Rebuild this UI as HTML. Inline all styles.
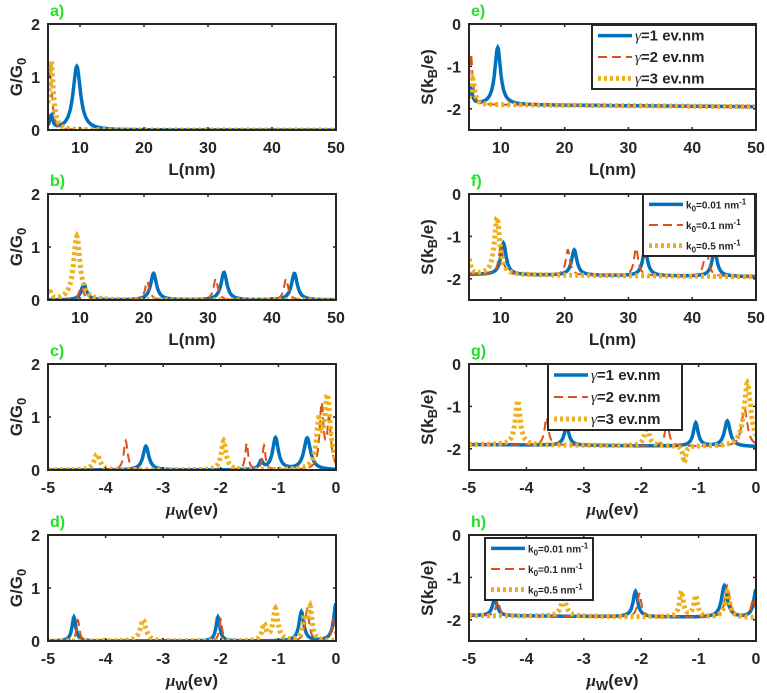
<!DOCTYPE html>
<html><head><meta charset="utf-8"><style>
html,body{margin:0;padding:0;background:#fff;}
svg{display:block;font-family:"Liberation Sans",Arial,sans-serif;font-weight:bold;}
</style></head><body>
<svg id="fig" width="767" height="693" viewBox="0 0 767 693"></svg>
<script>
// ---- data (peak centers, peak values, widths) ----
const rowTops = [24,194,364,535];
const lenTicks = [10,20,30,40,50];
const muTicks = [-5,-4,-3,-2,-1,0];
const gTicks = [0,1,2];
const sTicks = [-2,-1,0];
const gammaLabels = ["\u03b3=1 ev.nm","\u03b3=2 ev.nm","\u03b3=3 ev.nm"];
const kLabels = ["k0=0.01 nm-1","k0=0.1 nm-1","k0=0.5 nm-1"];

const aBlueC=[5.5,9.5], aBlueH=[0.25,1.2], aBlueW=[0.3,0.7];
const aRedC=[5.3], aRedH=[1.25], aRedW=[0.35];
const aYelC=[5.5], aYelH=[1.3], aYelW=[0.4];

const bBlueC=[10.6,21.5,32.5,43.5], bBlueH=[0.3,0.5,0.52,0.5], bBlueW=[0.5,0.55,0.55,0.55];
const bRedC=[10.2,20.5,31.2,42.2], bRedH=[0.25,0.35,0.4,0.4], bRedW=[0.4,0.4,0.4,0.4];
const bYelC=[5.2,9.5], bYelH=[0.2,1.2], bYelW=[0.3,0.6];

const cBlueC=[-3.3,-1.3,-1.05,-0.5], cBlueH=[0.45,0.15,0.6,0.6], cBlueW=[0.06,0.04,0.06,0.07];
const cRedC=[-3.65,-1.55,-1.25,-0.25,-0.12], cRedH=[0.55,0.5,0.45,1.2,0.9], cRedW=[0.04,0.03,0.03,0.04,0.04];
const cYelC=[-4.15,-1.95,-0.3,-0.15], cYelH=[0.3,0.55,0.8,1.35], cYelW=[0.06,0.05,0.05,0.06];

const dBlueC=[-4.55,-2.05,-0.6,0], dBlueH=[0.45,0.45,0.55,0.7], dBlueW=[0.04,0.04,0.05,0.05];
const dRedC=[-4.48,-2.0,-0.5,-0.05], dRedH=[0.4,0.4,0.6,0.4], dRedW=[0.03,0.03,0.04,0.03];
const dYelC=[-3.35,-1.25,-1.05,-0.55,-0.45], dYelH=[0.4,0.3,0.6,0.4,0.6], dYelW=[0.06,0.04,0.05,0.04,0.04];

const eBlueC=[5.3,9.5], eBlueH=[-1.55,-0.55], eBlueW=[0.3,0.55];
const eRedC=[5.3], eRedH=[-0.7], eRedW=[0.3];
const eYelC=[5.6], eYelH=[-1.3], eYelW=[0.35];

const fBlueC=[10.4,21.5,32.6,43.5], fBlueH=[-1.15,-1.3,-1.3,-1.3], fBlueW=[0.5,0.5,0.5,0.5];
const fRedC=[10.0,20.5,31.2,42.2], fRedH=[-1.2,-1.3,-1.25,-1.2], fRedW=[0.4,0.4,0.4,0.4];
const fYelC=[5.0,9.4], fYelH=[-1.55,-0.55], fYelW=[0.3,0.5];

const gBlueC=[-3.3,-1.05,-0.5], gBlueH=[-1.45,-1.35,-1.3], gBlueW=[0.05,0.05,0.06];
const gRedC=[-3.65,-1.55,-0.2], gRedH=[-1.25,-1.3,-1.0], gRedW=[0.04,0.04,0.06];
const gYelC=[-4.15,-1.9,-1.25,-0.15], gYelH=[-0.85,-1.45,-2.3,-0.4], gYelW=[0.05,0.05,0.03,0.07];

const hBlueC=[-4.55,-2.1,-0.55,0], hBlueH=[-1.5,-1.3,-1.15,-1.25], hBlueW=[0.05,0.05,0.06,0.05];
const hRedC=[-4.5,-2.03,-0.5,-0.05], hRedH=[-1.55,-1.35,-1.15,-1.45], hRedW=[0.04,0.04,0.05,0.04];
const hYelC=[-3.35,-1.3,-1.05,-0.5], hYelH=[-1.5,-1.3,-1.4,-1.3], hYelW=[0.06,0.04,0.04,0.05];

const NS="http://www.w3.org/2000/svg";
const svg=document.getElementById('fig');
const COL={b:"#0072BD",r:"#D95319",y:"#EDB120"};
function el(t,a,p){const e=document.createElementNS(NS,t);for(const k in a)e.setAttribute(k,a[k]);(p||svg).appendChild(e);return e;}

const panels=[
 {id:'a',col:0,row:0,xr:[5,50],xt:lenTicks,yr:[0,2],yt:gTicks,base:0,s:[[aBlueC,aBlueH,aBlueW],[aRedC,aRedH,aRedW],[aYelC,aYelH,aYelW]],xl:'L',leg:null},
 {id:'b',col:0,row:1,xr:[5,50],xt:lenTicks,yr:[0,2],yt:gTicks,base:0,s:[[bBlueC,bBlueH,bBlueW],[bRedC,bRedH,bRedW],[bYelC,bYelH,bYelW]],xl:'L',leg:null},
 {id:'c',col:0,row:2,xr:[-5,0],xt:muTicks,yr:[0,2],yt:gTicks,base:0,s:[[cBlueC,cBlueH,cBlueW],[cRedC,cRedH,cRedW],[cYelC,cYelH,cYelW]],xl:'mu',leg:null},
 {id:'d',col:0,row:3,xr:[-5,0],xt:muTicks,yr:[0,2],yt:gTicks,base:0,s:[[dBlueC,dBlueH,dBlueW],[dRedC,dRedH,dRedW],[dYelC,dYelH,dYelW]],xl:'mu',leg:null},
 {id:'e',col:1,row:0,xr:[5,50],xt:lenTicks,yr:[-2.5,0],yt:sTicks,base:-1.9,s:[[eBlueC,eBlueH,eBlueW],[eRedC,eRedH,eRedW],[eYelC,eYelH,eYelW]],xl:'L',leg:{x:592,y:25,w:164,h:64,t:'g'}},
 {id:'f',col:1,row:1,xr:[5,50],xt:lenTicks,yr:[-2.5,0],yt:sTicks,base:-1.9,s:[[fBlueC,fBlueH,fBlueW],[fRedC,fRedH,fRedW],[fYelC,fYelH,fYelW]],xl:'L',leg:{x:643,y:194,w:112,h:62,t:'k'}},
 {id:'g',col:1,row:2,xr:[-5,0],xt:muTicks,yr:[-2.5,0],yt:sTicks,base:-1.9,s:[[gBlueC,gBlueH,gBlueW],[gRedC,gRedH,gRedW],[gYelC,gYelH,gYelW]],xl:'mu',leg:{x:548,y:364,w:134,h:66,t:'g'}},
 {id:'h',col:1,row:3,xr:[-5,0],xt:muTicks,yr:[-2.5,0],yt:sTicks,base:-1.9,s:[[hBlueC,hBlueH,hBlueW],[hRedC,hRedH,hRedW],[hYelC,hYelH,hYelW]],xl:'mu',leg:{x:485,y:538,w:108,h:62,t:'k'}}
];
const styles=[{c:COL.b,w:3.5,d:null},{c:COL.r,w:2,d:"9,5"},{c:COL.y,w:5,d:"3,3"}];

panels.forEach(p=>{
  const L=p.col?469:48, R=p.col?756:336, T=rowTops[p.row], B=T+106;
  const sx=v=>L+(v-p.xr[0])/(p.xr[1]-p.xr[0])*(R-L);
  const sy=v=>B-(v-p.yr[0])/(p.yr[1]-p.yr[0])*(B-T);
  const g=el('g',{});
  
  
  const clipId='clip'+p.id;
  const cp=el('clipPath',{id:clipId},g);el('rect',{x:L,y:T,width:R-L,height:B-T},cp);
  p.s.forEach((s,i)=>{
    const [C,H,W]=s;let pts=[];
    for(let k=0;k<=600;k++){const x=p.xr[0]+(p.xr[1]-p.xr[0])*k/600;let y=p.base;
      for(let j=0;j<C.length;j++){y+=(H[j]-p.base)*W[j]*W[j]/((x-C[j])*(x-C[j])+W[j]*W[j]);}
      if(p.base<0){y+=-0.05*(x-p.xr[0])/(p.xr[1]-p.xr[0]);}
      pts.push(sx(x).toFixed(1)+','+sy(y).toFixed(1));}
    const st=styles[i];
    const pl=el('polyline',{points:pts.join(' '),fill:'none',stroke:st.c,'stroke-width':st.w,'clip-path':'url(#'+clipId+')'},g);
    if(st.d)pl.setAttribute('stroke-dasharray',st.d);
    
    
  });
  el('rect',{x:L,y:T,width:R-L,height:B-T,fill:'none',stroke:'#262626','stroke-width':2},g);
  p.xt.forEach(v=>{const x=sx(v);
    el('line',{x1:x,y1:B,x2:x,y2:B-3,stroke:'#262626','stroke-width':1.5},g);
    el('line',{x1:x,y1:T,x2:x,y2:T+3,stroke:'#262626','stroke-width':1.5},g);
    const t=el('text',{x:x,y:B+23,'text-anchor':'middle','font-size':16,fill:'#262626'},g);t.textContent=v;
    });
  p.yt.forEach(v=>{const y=sy(v);
    el('line',{x1:L,y1:y,x2:L+3,y2:y,stroke:'#262626','stroke-width':1.5},g);
    el('line',{x1:R,y1:y,x2:R-3,y2:y,stroke:'#262626','stroke-width':1.5},g);
    const t=el('text',{x:L-8,y:y+6,'text-anchor':'end','font-size':16,fill:'#262626'},g);t.textContent=v;
    });
  const xl=el('text',{x:(L+R)/2,y:B+45,'text-anchor':'middle','font-size':17,fill:'#262626'},g);
  if(p.xl==='L'){xl.textContent='L(nm)';}else{xl.innerHTML='<tspan font-family="Liberation Serif" font-style="italic">\u03bc</tspan><tspan dy="4" font-size="13">W</tspan><tspan dy="-4">(ev)</tspan>';}
  
  const yx=p.col?L-36:L-26, yy=(T+B)/2;
  const yl=el('text',{x:yx,y:yy,'text-anchor':'middle','font-size':17,fill:'#262626',transform:'rotate(-90 '+yx+' '+yy+')'},g);
  if(p.col)yl.innerHTML='S(k<tspan dy="4" font-size="13">B</tspan><tspan dy="-4">/e)</tspan>';
  else yl.innerHTML='G/G<tspan dy="4" font-size="13">0</tspan>';
  
  const pl=el('text',{x:L+2,y:T-8,'font-size':16,fill:'#22e022'},g);pl.textContent=p.id+')';
  
  if(p.leg){const lg=p.leg;const lgG=el('g',{},g);
    
    el('rect',{x:lg.x,y:lg.y,width:lg.w,height:lg.h,fill:'#fff',stroke:'#262626','stroke-width':2},lgG);
    for(let i=0;i<3;i++){const yy=lg.y+lg.h*(i+0.5)/3;const st=styles[i];
      const ln=el('line',{x1:lg.x+6,y1:yy,x2:lg.x+40,y2:yy,stroke:st.c,'stroke-width':st.w},lgG);
      if(st.d)ln.setAttribute('stroke-dasharray',st.d);
      const tx=el('text',{x:lg.x+43,y:yy+(lg.t==='g'?5:4),'font-size':lg.t==='g'?15:10,fill:'#262626'},lgG);
      if(lg.t==='g'){tx.innerHTML='<tspan font-family="Liberation Serif" font-style="italic" font-weight="normal">\u03b3</tspan>'+gammaLabels[i].slice(1);}
      else{const v=['0.01','0.1','0.5'][i];tx.innerHTML='k<tspan dy="3" font-size="8">0</tspan><tspan dy="-3">='+v+' nm</tspan><tspan dy="-4" font-size="8">-1</tspan>';}
      }
  }
});
</script>
</body></html>
